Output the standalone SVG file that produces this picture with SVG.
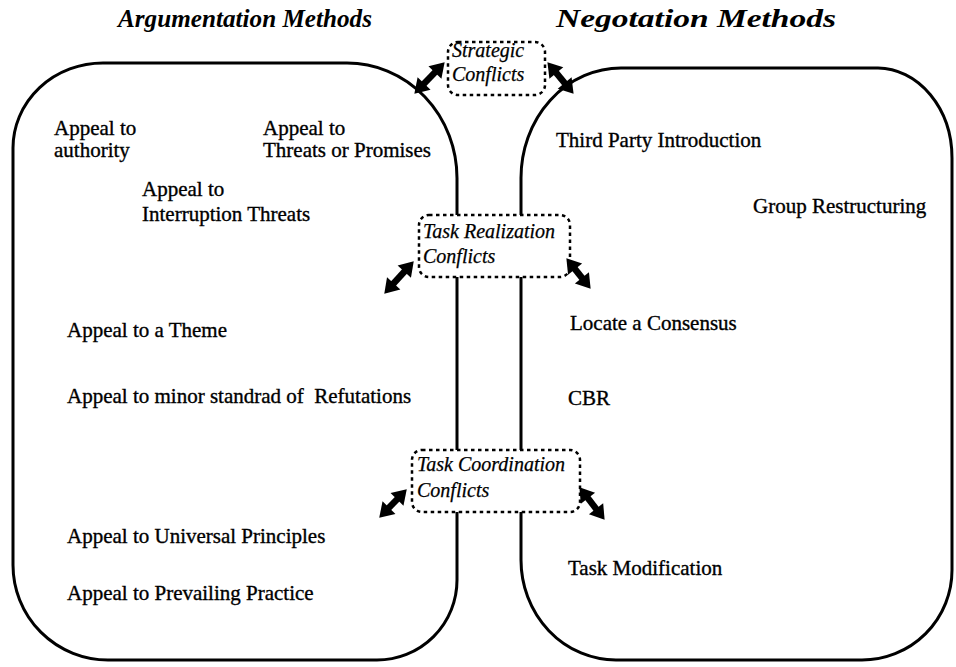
<svg xmlns="http://www.w3.org/2000/svg" width="956" height="667" viewBox="0 0 956 667">
<style>
  .bg { fill: #ffffff; }
  .panel { fill: none; stroke: #000; stroke-width: 3; }
  .conf { fill: #ffffff; stroke: #000; stroke-width: 2.5; stroke-dasharray: 3.5 3.5; }
  .title { font-family: "Liberation Serif", "Times New Roman", serif; font-size: 25px; font-weight: bold; font-style: italic; fill: #000; }
  .ct { font-family: "Liberation Serif", "Times New Roman", serif; font-size: 20px; font-style: italic; fill: #000; stroke: #000; stroke-width: 0.25; }
  .item { font-family: "Liberation Serif", "Times New Roman", serif; font-size: 21px; fill: #000; stroke: #000; stroke-width: 0.35; }
  .arrow { stroke: #000; stroke-width: 6.5; fill: none; marker-start: url(#head); marker-end: url(#head); }
</style>
<defs>
  <marker id="head" markerUnits="userSpaceOnUse" markerWidth="18" markerHeight="18" viewBox="0 0 18 18" refX="4" refY="9" orient="auto-start-reverse" overflow="visible">
    <path d="M0,0 L14,9 L0,18 z" fill="#000"/>
  </marker>
</defs>
<rect class="bg" x="0" y="0" width="956" height="667"/>

<g id="argumentation">
  <path class="panel" d="M103,63 L347,63 A110,115 0 0 1 457,178 L457,580 A80,80 0 0 1 377,660 L108,660 A95,95 0 0 1 13,565 L13,148 A90,85 0 0 1 103,63 Z"/>
  <text class="title" x="118" y="27" textLength="254" lengthAdjust="spacingAndGlyphs">Argumentation Methods</text>
  <text class="item" x="54" y="135">Appeal to</text>
  <text class="item" x="54" y="157">authority</text>
  <text class="item" x="263" y="135">Appeal to</text>
  <text class="item" x="263" y="157">Threats or Promises</text>
  <text class="item" x="142" y="196">Appeal to</text>
  <text class="item" x="142" y="221">Interruption Threats</text>
  <text class="item" x="67" y="337">Appeal to a Theme</text>
  <text class="item" x="67" y="403" xml:space="preserve">Appeal to minor standrad of  Refutations</text>
  <text class="item" x="67" y="543">Appeal to Universal Principles</text>
  <text class="item" x="67" y="600">Appeal to Prevailing Practice</text>
</g>

<g id="negotiation">
  <path class="panel" d="M621,68 L878,68 A75,90 0 0 1 952,158 L952,570 A90,90 0 0 1 862,660 L616,660 A95,100 0 0 1 521,560 L521,178 A100,110 0 0 1 621,68 Z"/>
  <text class="title" x="556" y="27" textLength="280" lengthAdjust="spacingAndGlyphs">Negotation Methods</text>
  <text class="item" x="556" y="147">Third Party Introduction</text>
  <text class="item" x="753" y="213">Group Restructuring</text>
  <text class="item" x="570" y="330">Locate a Consensus</text>
  <text class="item" x="568" y="405">CBR</text>
  <text class="item" x="568" y="575">Task Modification</text>
</g>

<g id="strategic">
  <rect class="conf" x="448" y="42" width="97" height="53" rx="10"/>
  <text class="ct" x="452" y="57">Strategic</text>
  <text class="ct" x="452" y="81">Conflicts</text>
</g>

<g id="task-realization">
  <rect class="conf" x="419" y="215" width="151" height="62" rx="10"/>
  <text class="ct" x="423" y="238">Task Realization</text>
  <text class="ct" x="423" y="263">Conflicts</text>
</g>

<g id="task-coordination">
  <rect class="conf" x="412" y="450" width="168" height="62" rx="10"/>
  <text class="ct" x="417" y="471">Task Coordination</text>
  <text class="ct" x="417" y="497">Conflicts</text>
</g>

<g id="connectors">
  <line class="arrow" x1="421.3" y1="86.5" x2="437.7" y2="69.5"/>
  <line class="arrow" x1="553.8" y1="69.9" x2="567.2" y2="86.1"/>
  <line class="arrow" x1="391.0" y1="286.3" x2="407.0" y2="268.7"/>
  <line class="arrow" x1="572.6" y1="266.1" x2="584.4" y2="280.9"/>
  <line class="arrow" x1="386.2" y1="510.5" x2="399.8" y2="496.5"/>
  <line class="arrow" x1="585.5" y1="495.1" x2="598.5" y2="511.9"/>
</g>
</svg>
